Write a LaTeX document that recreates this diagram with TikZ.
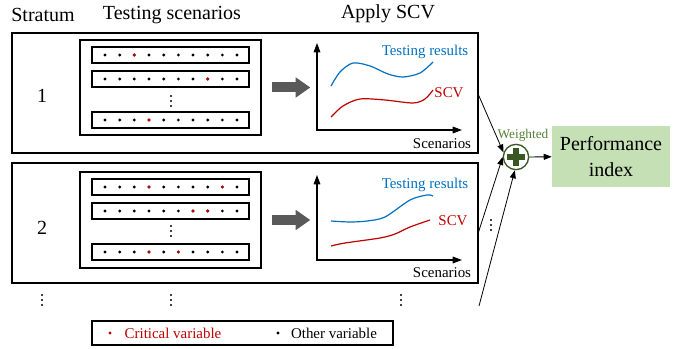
\documentclass[tikz,border=0pt]{standalone}
\usepackage{fontspec}
\setmainfont{Liberation Serif}
\usetikzlibrary{arrows.meta,fit}
\definecolor{scvred}{HTML}{C00000}
\definecolor{resblue}{HTML}{0070C0}
\definecolor{sumgreen}{HTML}{385723}
\definecolor{wgtgreen}{HTML}{548235}
\definecolor{perfgreen}{HTML}{C5E0B4}
\definecolor{arrowgray}{HTML}{595959}
\newcommand{\bigfont}{\rmfamily\fontsize{15}{19}\selectfont}
\newcommand{\smallfont}{\rmfamily\fontsize{11.2}{13}\selectfont}

\begin{document}
\begin{tikzpicture}[x=0.75pt,y=-0.75pt,
    box/.style={draw,line width=0.8pt,inner sep=0pt},
    bigarrow/.style={line width=7.5pt,arrowgray,-{Triangle[length=11pt,width=14.5pt]}},
    axis/.style={line width=0.8pt,{Triangle[length=7pt,width=5pt]}-{Triangle[length=7pt,width=5pt]}},
    feed/.style={line width=0.6pt,-{Triangle[length=6pt,width=4.5pt]}},
    title/.style={font=\bigfont},
    lbl/.style={font=\smallfont},
    vdots/.pic={\foreach \d in {-5,0,5} \fill (0,\d) circle (0.8pt);}]
    \useasboundingbox (0,0) rectangle (689,349);

    \node[title] (hstrat) at (43,15) {Stratum};
    \node[title] (hscen) at (172,15) {Testing scenarios};
    \node[title] (hscv) at (388,14) {Apply SCV};

    \node[box,fit={(12,33)(478,153)}] (strat1) {};
    \node[box,fit={(12,163)(478,283)}] (strat2) {};
    \node[title] (n1) at (42,96) {1};
    \node[title] (n2) at (42,228) {2};

    \node[box,fit={(80,40)(261,135)}] (scen1) {};
    \node[box,fit={(80,172)(261,268)}] (scen2) {};
    \foreach \n/\yy/\reds in {11/55/{2},12/79/{7},13/120/{3},21/187/{3,8},22/211/{6,7},23/252/{3,5}} {
        \node[box,fit={(92,\yy-8)(249,\yy+8)}] (r\n) {};
        \foreach \k in {0,...,9} \fill (105+14.67*\k,\yy) circle (1.2pt);
        \foreach \k in \reds \fill[scvred] (105+14.67*\k,\yy) circle (1.2pt);
    }
    \pic at (171,101) {vdots};
    \pic at (171,231) {vdots};

    \coordinate (o1) at (317,130);
    \coordinate (ytop1) at (317,43);
    \coordinate (xend1) at (462,130);
    \coordinate (o2) at (317,260);
    \coordinate (ytop2) at (317,175);
    \coordinate (xend2) at (462,260);
    \draw[bigarrow] ([xshift=7.5pt]scen1.east) -- ([xshift=-5pt]o1 |- scen1.east);
    \draw[bigarrow] ([xshift=7.5pt]scen2.east) -- ([xshift=-5pt]o2 |- scen2.east);
    \draw[axis] (ytop1) -- (o1) -- (xend1);
    \draw[axis] (ytop2) -- (o2) -- (xend2);

    \draw[resblue,line width=0.9pt] plot[smooth] coordinates {(331,86)(340,72)(353,63)(370,66)(388,74)(403,77)(420,73)(433,62)};
    \draw[scvred,line width=0.9pt] plot[smooth] coordinates {(331,117)(343,106)(360,99)(385,100)(413,103)(425,99)(433,90)};
    \draw[resblue,line width=0.9pt] plot[smooth] coordinates {(331,221)(350,222)(367,221)(385,217)(410,200)(427,195)(433,196)};
    \draw[scvred,line width=0.9pt] plot[smooth] coordinates {(331,246)(345,243)(380,238)(395,234)(410,227)(430,220)};

    \node[lbl,text=resblue] (res1) at (425,52) {Testing results};
    \node[lbl,text=scvred] (scv1) at (449,93) {SCV};
    \node[lbl] (sc1) at (442,144) {Scenarios};
    \node[lbl,text=resblue] (res2) at (425,185) {Testing results};
    \node[lbl,text=scvred] (scv2) at (453,221) {SCV};
    \node[lbl] (sc2) at (442,273) {Scenarios};

    \pic at (42,300) {vdots};
    \pic at (171,300) {vdots};
    \pic at (401,300) {vdots};
    \pic at (491,225) {vdots};

    \node[circle,draw=sumgreen,line width=1pt,fill=white,minimum size=19pt,inner sep=0pt] (sum) at (516,157) {};
    \draw[sumgreen,line width=5pt] ([xshift=-6.75pt]sum.center) -- ([xshift=6.75pt]sum.center);
    \draw[sumgreen,line width=5pt] ([yshift=-6.75pt]sum.center) -- ([yshift=6.75pt]sum.center);
    \node[text=wgtgreen,font=\rmfamily\fontsize{10}{12}\selectfont,inner sep=0pt] (wgt) at (523,135) {Weighted};
    \node[fill=perfgreen,minimum width=88.5pt,minimum height=45.75pt,align=center,font=\bigfont] (perf) at (611,156.5) {Performance\\index};

    \coordinate (more) at (479,306);
    \draw[feed] ([yshift=-1.5pt]strat1.east) -- (sum.160);
    \draw[feed] ([yshift=-6.75pt]strat2.east) -- (sum.west);
    \draw[feed] (more) -- (sum.265);
    \draw[feed] (sum) -- (perf);

    \node[box,fit={(92,321)(393,345)}] (legend) {};
    \fill[scvred] (110,333) circle (1.2pt);
    \node[lbl,text=scvred] (crit) at (173,333) {Critical variable};
    \fill (278,333) circle (1.2pt);
    \node[lbl] (other) at (334,333) {Other variable};
\end{tikzpicture}
\end{document}
